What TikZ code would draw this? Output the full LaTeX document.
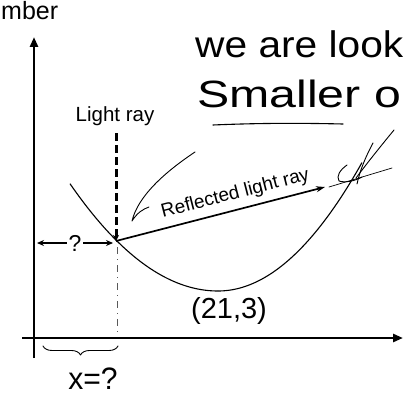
\documentclass[tikz,border=0pt]{standalone}
\usepackage{fontspec}
\setmainfont{Liberation Sans}
\usetikzlibrary{arrows.meta,decorations.pathreplacing}
\tikzset{
  axis/.style={line width=2.6pt,-{Triangle[length=10pt,width=8pt]}},
  hand/.style={line width=0.9pt,line cap=round,line join=round},
  handtext/.style={inner sep=0pt,font=\fontsize{#1}{#1}\selectfont},
  printtext/.style={inner sep=1pt,font=\fontsize{#1}{#1}\selectfont},
  curve/.style={line width=1.1pt},
}
\begin{document}
\begin{tikzpicture}[x=1pt,y=-1pt]
\useasboundingbox (0,0) rectangle (409,412);
\clip (0,0) rectangle (409,412);
\fill[white] (0,0) rectangle (409,412);

% axes
\coordinate (yb) at (34,358);
\coordinate (yt) at (34,37);
\coordinate (xl) at (22,338);
\coordinate (xr) at (403,338);
\draw[axis] (yb) -- (yt);
\draw[axis] (xl) -- (xr);

% parabola
\draw[curve] plot[domain=-148:0,samples=60] ({218+\x},{291-0.0049*(\x)*(\x)});
\draw[curve] plot[domain=0:144,samples=60] ({218+\x},{291-0.0062*(\x)*(\x)});

% points
\coordinate (hit) at (116,241);
\coordinate (lr) at (116,133);
\coordinate (rr) at (325,187);
\coordinate (ql) at (37,243);
\coordinate (qr) at (113,243);
\coordinate (vtx) at (218,291);

% light ray
\node[printtext=20.5] (lightlbl) at (115,116) {Light ray};
\draw[line width=3pt,dash pattern=on 8pt off 4pt,-{Stealth[length=6pt,width=6pt]}] (lr) -- (hit);

% reflected ray
\draw[line width=1.7pt,-{Stealth[length=9pt,width=6pt]}] (hit) -- (rr)
  node[pos=0.59,above=5pt,sloped,printtext=19] (refllbl) {Reflected light ray};

% distance ?
\draw[line width=1.2pt,{Stealth[length=7pt,width=6pt]}-{Stealth[length=7pt,width=6pt]}] (ql) -- node[fill=white,inner sep=2pt,font=\fontsize{23}{23}\selectfont] (qm) {?} (qr);

% thin hand dashed drop line
\coordinate (d1) at (117,247);
\coordinate (d2) at (117,336);
\draw[line width=0.8pt,dash pattern=on 7pt off 5pt on 1pt off 5pt,gray!70!black] (d1) -- (d2);

% brace
\coordinate (b1) at (43,346);
\coordinate (b2) at (118,346);
\draw[hand,decorate,decoration={brace,mirror,amplitude=9pt,aspect=0.5}] (b1) -- (b2);
\node[handtext=31,xscale=0.97] (xq) at (93,379) {x=?};

% vertex label
\node[handtext=29] (vl) at (229,311) {(21,3)};

% top handwriting
\node[handtext=25,anchor=base west] (num) at (1,20) {mber};
\node[handtext=37,anchor=base west,xscale=1.1] (t1) at (195,58) {we are look};
\node[handtext=38,anchor=base west,xscale=1.27] (t2) at (197,107) {Smaller o};
\coordinate (u1) at (213,125);
\coordinate (u2) at (343,124);
\draw[hand,line width=1.1pt] (u1) .. controls (260,123) and (300,123) .. (u2);

% hand-drawn arrow to light ray
\coordinate (ha1) at (195,152);
\coordinate (ha2) at (132,221);
\coordinate (ha3) at (149,207);
\draw[hand] (ha1) .. controls (165,172) and (138,196) .. (ha2) .. controls (137,213) and (143,209) .. (ha3);

% hand-drawn check/scribble at right
\coordinate (s1) at (394,130);
\coordinate (s2) at (356,178);
\coordinate (s3) at (373,143);
\coordinate (s4) at (357,184);
\coordinate (s5) at (329,187);
\coordinate (s6) at (392,168);
\draw[hand] (s1) .. controls (380,147) and (368,162) .. (s2);
\draw[hand] (s3) .. controls (366,156) and (360,170) .. (s4);
\draw[hand,line width=0.7pt] (s5) -- (s6);
\draw[hand] (347,165) .. controls (340,170) and (336,176) .. (339,181) .. controls (345,183) and (355,181) .. (362,177);
\end{tikzpicture}
\end{document}
